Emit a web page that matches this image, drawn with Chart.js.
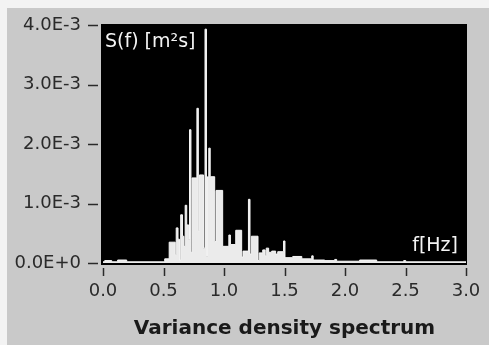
<!DOCTYPE html>
<html>
<head>
<meta charset="utf-8">
<script src="https://cdn.jsdelivr.net/npm/chart.js@4"></script>
<style>
  html, body { margin: 0; padding: 0; background: #f3f3f3; }
  #panel { position: absolute; left: 7px; top: 8px; width: 482px; height: 337px; background: #c9c9c9; }
  #chart { position: absolute; left: 0; top: 0; }
</style>
</head>
<body>
<div id="panel"></div>
<canvas id="chart" width="489" height="345"></canvas>
<script>
// left edge of each spectral step (Hz) and its variance density (1E-3 m²s)
const freqHz = [
  0.000, 0.014, 0.072, 0.121, 0.196, 0.510, 0.547, 0.597, 0.605, 0.620,
  0.632, 0.642, 0.657, 0.669, 0.679, 0.692, 0.708, 0.715, 0.727, 0.736,
  0.776, 0.788, 0.797, 0.831, 0.843, 0.855, 0.864, 0.874, 0.886, 0.923,
  0.934, 0.989, 1.040, 1.053, 1.097, 1.146, 1.157, 1.202, 1.215, 1.226,
  1.281, 1.291, 1.320, 1.340, 1.349, 1.369, 1.394, 1.427, 1.444, 1.492,
  1.504, 1.568, 1.643, 1.725, 1.737, 1.832, 1.915, 1.931, 2.121, 2.262,
  2.485, 2.502, 3.000
];
const density = [
  0.02, 0.04, 0.02, 0.05, 0.02, 0.07, 0.35, 0.14, 0.59, 0.40,
  0.05, 0.81, 0.45, 0.28, 0.97, 0.64, 0.40, 2.24, 0.18, 1.43,
  2.60, 0.54, 1.48, 0.25, 3.93, 0.11, 1.45, 1.93, 1.45, 0.36,
  1.22, 0.28, 0.47, 0.31, 0.55, 0.10, 0.20, 1.07, 0.15, 0.45,
  0.04, 0.17, 0.22, 0.12, 0.25, 0.18, 0.20, 0.15, 0.19, 0.37,
  0.09, 0.11, 0.07, 0.12, 0.05, 0.04, 0.06, 0.03, 0.05, 0.02,
  0.04, 0.02, 0.02
];
const xTicks = [0, 0.5, 1, 1.5, 2, 2.5, 3];
const yTicks = [0, 1, 2, 3, 4];

const font = "'DejaVu Sans', Verdana, sans-serif";

// keep the plot box fixed: labels may not push it around
function noPad(scale) {
  scale.paddingLeft = 0;
  scale.paddingRight = 0;
  scale.paddingTop = 0;
  scale.paddingBottom = 0;
}

const plotBack = {
  id: "plotBack",
  beforeDatasetsDraw(chart) {
    const { ctx, chartArea: a } = chart;
    ctx.save();
    ctx.fillStyle = "#000";
    ctx.fillRect(a.left - 2, a.top - 1, a.right - a.left + 3, a.bottom - a.top + 3);
    ctx.restore();
  },
  afterDraw(chart) {
    const { ctx, chartArea: a, scales } = chart;
    ctx.save();
    ctx.strokeStyle = "#2a2a2a";
    ctx.lineWidth = 1.5;
    yTicks.forEach(v => {
      const y = Math.round(scales.y.getPixelForValue(v)) + 0.5;
      ctx.beginPath(); ctx.moveTo(88, y); ctx.lineTo(98, y); ctx.stroke();
    });
    xTicks.forEach(v => {
      const x = Math.round(scales.x.getPixelForValue(v)) + 0.5;
      ctx.beginPath(); ctx.moveTo(x, a.bottom + 5); ctx.lineTo(x, a.bottom + 13); ctx.stroke();
    });
    ctx.fillStyle = "#f4f4f4";
    ctx.font = "19px " + font;
    ctx.textBaseline = "middle";
    ctx.textAlign = "left";
    ctx.fillText("S(f) [m²s]", a.left + 2, a.top + 17);
    ctx.textAlign = "right";
    ctx.fillText("f[Hz]", a.right - 8, a.bottom - 17);
    ctx.restore();
  }
};

new Chart(document.getElementById("chart"), {
  type: "line",
  data: {
    datasets: [{
      data: freqHz.map((f, i) => ({ x: f, y: density[i] })),
      stepped: true,
      fill: "origin",
      backgroundColor: "#ebebeb",
      borderColor: "#f6f6f6",
      borderWidth: 1,
      pointRadius: 0
    }]
  },
  options: {
    responsive: false,
    animation: false,
    layout: { padding: { left: 0, top: 25, right: 23, bottom: 0 } },
    plugins: { legend: { display: false }, tooltip: { enabled: false } },
    scales: {
      x: {
        type: "linear",
        min: 0,
        max: 3,
        afterFit(scale) { scale.height = 82; noPad(scale); },
        afterBuildTicks(scale) { scale.ticks = xTicks.map(v => ({ value: v })); },
        grid: { display: false, drawTicks: false },
        border: { display: false },
        ticks: {
          padding: 18,
          maxRotation: 0,
          autoSkip: false,
          color: "#2a2a2a",
          font: { family: font, size: 18 },
          callback: v => v.toFixed(1)
        },
        title: {
          display: true,
          text: "Variance density spectrum",
          color: "#1a1a1a",
          font: { family: font, size: 20, weight: "bold" },
          padding: { top: 0, bottom: 4 }
        }
      },
      y: {
        min: 0,
        max: 4,
        afterFit(scale) { scale.width = 103; noPad(scale); },
        afterBuildTicks(scale) { scale.ticks = yTicks.map(v => ({ value: v })); },
        grid: { display: false, drawTicks: false },
        border: { display: false },
        ticks: {
          padding: 22,
          color: "#2a2a2a",
          font: { family: font, size: 18 },
          callback: v => v === 0 ? "0.0E+0" : v.toFixed(1) + "E-3"
        }
      }
    }
  },
  plugins: [plotBack]
});
</script>
</body>
</html>
